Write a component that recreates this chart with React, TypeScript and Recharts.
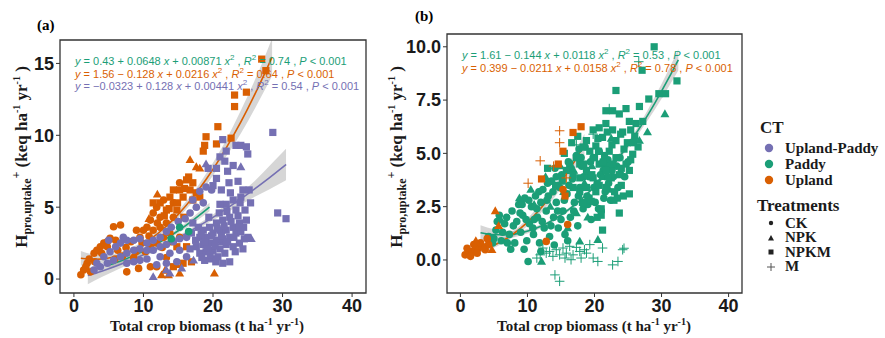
import React from "react";
import { Area, ComposedChart, Line, ReferenceArea, Scatter, XAxis, YAxis } from "recharts";

// colours per cropping type (ggplot Dark2)
const ctNames = ["Upland-Paddy", "Paddy", "Upland"];
const ctColors = ["#7570b3", "#1b9e77", "#d95f02"];
const treatNames = ["CK", "NPK", "NPKM", "M"];
const xTicks = [0, 10, 20, 30, 40];
const aYTicks = [0, 5, 10, 15];
const bYTicks = [0, 2.5, 5, 7.5, 10];

// ---- panel (a) points, [x, y]
const aUpdCK = [[2.9,0.63],[3.8,0.86],[4.8,1.1],[5.7,1.3],[6.7,1.55],[7.6,1.8],[8.6,2.0],[9.5,2.1],[10.5,2.0],[11.4,2.0],[12.4,2.25],[13.3,2.4],[14.3,2.6],[15.2,2.8],[16.2,2.9],[3.3,1.1],[4.3,1.55],[5.2,1.9],[6.0,2.25],[6.7,2.5],[7.6,2.7],[8.6,2.7],[9.5,2.8],[10.5,2.5],[11.4,2.7],[12.4,2.9],[13.3,3.3],[14.0,3.6],[15.0,4.0],[16.0,4.2],[16.7,4.6],[17.6,5.0],[18.6,5.3],[10.5,1.4],[9.5,1.3],[8.6,1.2],[7.6,1.1],[12.4,1.55],[13.8,1.8],[15.2,2.0],[16.2,1.55],[14.8,1.2],[13.3,1.1],[11.9,1.0],[19.0,6.4],[19.8,6.2],[18.1,6.1],[17.1,5.5],[7.1,2.9],[5.0,2.7]];
const aUpdNPK = [[24.0,7.8],[25.5,2.8],[13.3,0.63],[13.8,0.4],[15.5,0.74],[11.4,0.16],[19.0,8.0],[17.2,1.3],[21.3,2.6]];
const aUpdNPKM = [[28.6,10.2],[29.3,4.6],[30.5,4.2],[21.4,9.7],[23.3,9.3],[24.0,9.3],[25.0,8.7],[24.8,9.2],[21.9,8.9],[21.0,8.5],[21.7,8.2],[22.9,7.9],[22.1,7.5],[20.5,7.0],[20.0,6.5],[19.3,7.7],[20.5,7.7],[24.3,6.2],[25.2,6.2],[24.0,5.7],[22.9,5.5],[21.9,5.2],[21.0,5.2],[23.3,4.8],[22.4,4.3],[21.4,4.1],[20.5,3.9],[19.5,3.6],[18.6,3.4],[17.9,3.6],[17.1,3.9],[16.9,3.2],[18.1,2.9],[19.0,2.9],[20.0,3.2],[21.0,3.4],[21.9,3.4],[22.9,3.6],[23.8,3.9],[24.8,4.1],[19.5,2.5],[20.5,2.7],[21.4,2.8],[22.4,2.9],[23.3,3.2],[24.0,3.3],[18.6,2.4],[17.6,2.25],[16.7,2.1],[18.1,1.8],[19.0,1.9],[20.0,2.0],[21.0,2.1],[21.9,2.4],[19.8,1.4],[20.7,1.55],[18.8,1.3],[21.7,1.8],[22.9,2.25],[23.8,2.5],[24.5,2.8],[25.0,2.9],[22.4,1.2],[21.4,1.1],
  [17.5,2.7],[18.3,3.1],[19.2,2.2],[20.3,2.3],[21.2,3.0],[22.1,2.6],[23.0,2.9],[23.7,3.6],[24.4,3.6],[22.6,4.0],[21.6,3.7],[20.6,3.5],[19.8,3.0],[18.9,2.6],[19.4,4.3],[20.9,4.6],[22.0,4.7],[23.6,4.4],[24.6,4.8],[25.4,5.3],[23.9,5.3],[22.5,6.0],[21.2,6.2],[23.6,6.8],[22.3,6.7],[18.4,1.5],[19.6,1.7],[20.4,1.2],[23.2,1.9],[24.3,2.1]];
const aUpCK = [[6.7,3.76],[5.7,3.64],[5.2,2.83],[4.8,2.6],[3.8,2.25],[2.9,1.8],[1.9,1.1],[1.4,0.63],[1.0,0.3],[2.4,0.5],[1.7,0.86],[3.3,2.0],[4.3,2.5],[4.8,2.25],[4.0,1.8],[7.6,0.5],[9.3,0.74],[11.0,0.86],[11.9,0.86],[10.5,3.6],[11.0,4.1],[11.4,4.6],[11.9,5.0],[12.9,5.5],[12.4,4.3],[13.3,3.9],[14.3,4.3],[14.3,5.3],[15.2,6.7],[10.0,3.4],[9.5,2.9],[9.0,3.4],[11.4,3.4],[12.4,3.6],[12.9,2.9],[13.8,3.2],[11.9,2.5],[11.0,2.25],[15.2,2.9],[8.2,2.6],[7.5,2.2],[6.3,2.0],[5.9,1.4],[2.2,1.4],[3.0,1.2],[8.6,1.5],[13.3,1.5],
  [12.0,3.9],[10.8,3.0],[9.8,2.5],[12.7,2.2],[14.0,2.6],[10.3,1.9],[8.9,1.9],[7.0,1.6],[6.0,2.7]];
const aUpNPK = [[16.7,8.3],[17.6,7.8],[18.1,7.7],[20.2,0.4],[12.6,0.28],[13.6,0.28],[15.2,0.4],[14.8,1.0],[13.1,0.6],[12.0,5.9],[10.8,4.2]];
const aUpNPKM = [[27.0,15.3],[27.6,14.5],[24.8,13.0],[23.1,12.8],[23.1,12.0],[20.7,10.6],[20.5,9.4],[22.6,9.8],[18.8,9.3],[18.6,8.9],[19.0,9.9],[16.2,6.9],[17.1,6.7],[15.2,6.2],[13.8,5.7],[16.7,6.2],[17.6,6.0],[17.1,5.5],[18.1,5.7],[14.3,6.2],[12.4,5.3],[11.4,5.3],[15.7,5.7],[14.8,4.8],[13.3,4.8],[16.9,1.2],[15.7,1.1],[14.3,0.86],[16.2,2.25],[14.8,2.25],
  [13.0,4.4],[13.7,4.9],[14.9,5.3],[15.9,6.3],[16.5,7.1],[15.8,4.3]];
const aPdCK = [[15.2,3.6],[16.5,3.3],[14.0,2.8]];

// ---- panel (b) points
const bPdCK = [[4.2,1.1],[4.8,0.8],[5.3,1.4],[5.8,2.1],[6.1,0.9],[6.6,1.7],[6.9,2.0],[7.3,1.2],[7.7,2.3],[8.1,0.8],[8.4,1.8],[8.7,2.6],[9.0,1.3],[9.3,2.1],[9.6,2.9],[9.9,0.9],[10.1,-0.07],[10.3,1.7],[10.6,2.5],[10.9,1.2],[11.2,3.0],[11.5,2.0],[11.8,0.8],[12.0,2.7],[12.3,3.3],[12.5,1.5],[12.8,2.3],[13.1,3.0],[13.3,1.1],[13.6,3.7],[13.9,2.0],[14.1,4.3],[14.3,2.7],[14.6,1.5],[14.8,3.4],[15.1,4.0],[15.3,2.3],[15.6,1.2],[15.9,3.1],[16.1,4.6],[16.4,2.0],[16.7,3.8],[17.0,2.7],[17.3,4.9],[17.5,1.6],[17.8,3.4],[18.1,4.4],[18.3,2.4],[18.6,5.3],[18.9,3.0],[19.2,3.9],[19.5,1.9],[19.8,4.8],[20.1,2.7],[20.4,3.6],[20.7,5.1],[21.0,2.3],[21.3,4.2],[21.6,3.2],[22.0,4.7],[22.4,2.8],[22.8,3.9],[23.3,4.4],[12.0,0.4],[14.0,0.7],[16.0,0.9],[9.5,0.5],[7.5,0.5],
  [5.0,1.0],[5.5,1.8],[6.3,1.3],[7.0,0.8],[7.9,1.6],[8.9,2.2],[9.8,1.9],[10.8,1.5],[11.4,2.4],[11.0,1.9],[12.2,1.8],[12.9,2.8],[13.5,1.6],[13.8,3.2],[14.5,2.3],[15.0,1.9],[15.5,2.8],[16.2,3.5],[16.9,2.3],[17.6,3.0],[18.4,3.9],[19.0,2.6],[19.9,3.4],[20.6,2.4],[21.4,2.9],[22.1,3.6],[22.6,4.2],[23.5,3.4],[14.3,3.9],[13.0,3.6],[11.7,3.2],[10.2,2.8],[9.2,2.6],[17.7,5.2],[16.5,4.3],[18.0,4.8],[19.4,4.6],[20.9,4.0],[21.8,4.4],[23.8,4.8],[24.5,3.9],[25.0,4.6]];
const bPdNPK = [[30.5,6.85],[27.9,6.0],[26.7,5.6],[22.5,5.7],[20.5,0.95],[12.1,-0.07],[17.8,0.87],[6.0,1.9],[8.8,2.9],[11.0,2.6],[13.4,2.5],[15.4,3.2],[16.9,4.2],[18.5,3.6],[19.6,4.4],[21.2,3.9],[14.9,4.4],[17.3,2.2],[19.0,2.0],[20.8,4.5],[22.2,3.3],[24.0,4.1],[10.5,3.3],[12.7,3.9],[16.0,1.5]];
const bPdNPKM = [[28.9,10.0],[27.1,8.9],[32.3,8.4],[30.6,7.8],[29.6,7.8],[28.1,7.55],[23.2,7.95],[26.7,7.2],[24.7,7.1],[22.7,7.0],[21.7,7.0],[23.7,6.85],[25.2,6.5],[27.2,6.5],[26.2,6.4],[21.7,6.4],[20.7,6.2],[22.7,6.1],[24.2,6.0],[25.4,6.1],[19.8,6.1],[21.2,5.75],[23.2,5.6],[24.4,5.2],[25.7,4.96],[25.4,4.7],[24.7,4.5],[24.0,4.3],[25.2,4.2],[23.7,4.0],[22.5,3.85],[21.7,4.2],[20.7,4.5],[20.0,4.8],[19.3,5.1],[18.3,5.3],[18.8,5.6],[20.2,5.35],[22.2,5.1],[23.2,4.8],[22.7,4.5],[24.0,3.5],[25.2,3.1],[23.4,2.9],[22.9,2.8],[21.0,2.4],[21.0,2.1],[21.2,1.4],[23.7,2.2],[19.5,2.75],[17.8,3.85],[18.8,4.2],[16.8,4.0],[17.8,4.5],[17.3,4.8],[16.3,4.5],[15.8,4.2],[19.8,3.85],[20.7,3.5],[21.7,3.4],[20.2,3.2],[18.8,3.4],[17.8,3.2],[16.8,3.4],[15.5,5.0],[16.6,5.5],[17.5,5.8],[14.2,3.5],[13.0,4.3],[15.2,3.7],[19.2,2.9],[21.5,4.9],[18.2,2.7],[20.4,2.0],[26.0,5.8],[26.5,5.3],
  [18.4,4.5],[19.6,4.0],[20.5,5.7],[21.3,4.6],[22.0,3.9],[23.0,3.2],[24.3,3.0],[24.9,5.5],[25.8,5.5],[23.9,5.9],[22.6,5.4],[21.9,6.0],[20.6,5.1]];
const bPdM = [[11.9,0.24],[12.8,0.32],[13.8,0.17],[14.8,0.24],[15.8,0.32],[16.8,0.24],[17.8,0.4],[18.8,0.32],[19.8,0.09],[20.5,-0.07],[21.2,0.56],[22.7,-0.23],[23.5,-0.07],[24.2,0.48],[14.1,-0.7],[14.8,-1.0],[13.3,0.4],[14.3,0.48],[15.3,0.56],[16.3,0.64],[17.3,0.59],[18.5,0.48],[12.3,0.56],[11.4,0.09],[19.3,0.72],[15.6,0.09],[16.5,0.01],[18.0,0.09],[22.2,7.1],[26.6,9.3],[17.3,5.4],[19.8,5.9],[24.4,0.55]];
const bUpCK = [[0.7,0.24],[1.2,0.4],[1.7,0.4],[2.2,0.48],[2.7,0.56],[3.2,0.64],[1.5,0.17],[2.5,0.32],[3.7,0.48],[2.0,0.72],[3.0,0.8],[4.2,0.72],[12.8,0.87],[16.0,1.66],[15.3,3.3],[1.0,0.55],[4.0,1.0]];
const bUpNPK = [[5.2,2.3],[5.7,1.6],[4.7,0.48],[2.3,0.9],[3.5,0.6]];
const bUpNPKM = [[18.0,6.25],[16.8,5.98],[15.3,5.1],[14.6,4.5],[12.1,3.8],[15.6,3.0]];
const bUpM = [[14.8,6.06],[14.8,5.5],[11.9,4.65],[10.1,3.6],[15.8,3.85],[13.9,4.4]];

// ---- fitted curves: [x, y, half band width]
const aFitUp = [[1,1.45,0.5],[3,1.37,0.35],[5,1.46,0.25],[7,1.72,0.22],[9,2.16,0.2],[11,2.77,0.2],[13,3.55,0.2],[15,4.5,0.25],[17,5.63,0.3],[19,6.93,0.4],[21,8.4,0.5],[23,10.04,0.7],[25,11.86,0.9],[27,13.85,1.1],[28.5,15.45,1.3]];
const aFitUpd = [[2,0.24,0.6],[4,0.55,0.4],[6,0.89,0.3],[8,1.27,0.2],[10,1.69,0.17],[12,2.14,0.15],[14,2.62,0.15],[16,3.14,0.15],[18,3.7,0.17],[20,4.29,0.2],[22,4.92,0.3],[24,5.58,0.4],[26,6.28,0.55],[28,7.01,0.8],[30.5,7.97,1.1]];
const aFitPd = [[5,0.97,0.3],[7,1.31,0.22],[9,1.72,0.18],[11,2.2,0.15],[13,2.74,0.15],[15,3.36,0.18],[17,4.05,0.22],[19.5,5.01,0.3]];
const bFitPd = [[3,1.28,0.35],[5,1.19,0.25],[7,1.18,0.18],[9,1.27,0.12],[11,1.45,0.1],[13,1.73,0.08],[15,2.11,0.08],[17,2.57,0.08],[19,3.13,0.08],[21,3.79,0.1],[23,4.54,0.12],[25,5.39,0.15],[27,6.32,0.2],[29,7.36,0.3],[31,8.49,0.4],[32.5,9.39,0.5]];
const bFitUp = [[1,0.39,0.15],[3,0.48,0.12],[5,0.69,0.12],[7,1.03,0.12],[9,1.49,0.15],[11,2.08,0.2],[13,2.8,0.25],[15,3.64,0.3],[17,4.61,0.4],[18.5,5.42,0.5]];

// equation labels
const aEqs = [
  { color: ctColors[1], lead: "0.43 + 0.0648", quad: "0.00871", r2: "0.74" },
  { color: ctColors[2], lead: "1.56 \u2212 0.128", quad: "0.0216", r2: "0.64" },
  { color: ctColors[0], lead: "\u22120.0323 + 0.128", quad: "0.00441", r2: "0.54" },
];
const bEqs = [
  { color: ctColors[1], lead: "1.61 \u2212 0.144", quad: "0.0118", r2: "0.53" },
  { color: ctColors[2], lead: "0.399 \u2212 0.0211", quad: "0.0158", r2: "0.78" },
];

const pts = (arr: number[][]) => arr.map(([x, y]) => ({ x, y }));
const line = (arr: number[][]) => arr.map(([x, y]) => ({ x, y }));
const band = (arr: number[][]) => arr.map(([x, y, h]) => ({ x, band: [y - h, y + h] }));

const marker = (kind: string) => (props: any) => {
  const { cx, cy, fill } = props;
  if (cx == null || cy == null) return <g />;
  if (kind === "circle") return <circle cx={cx} cy={cy} r={3.8} fill={fill} />;
  if (kind === "triangle")
    return <polygon points={`${cx},${cy - 4.6} ${cx + 4.5},${cy + 3.2} ${cx - 4.5},${cy + 3.2}`} fill={fill} />;
  if (kind === "square") return <rect x={cx - 3.6} y={cy - 3.6} width={7.2} height={7.2} fill={fill} />;
  return (
    <path d={`M${cx - 4.8},${cy}H${cx + 4.8}M${cx},${cy - 4.8}V${cy + 4.8}`} stroke={fill} strokeWidth={1} fill="none" />
  );
};

const tickStyle = { fontSize: 18, fontWeight: 700, fill: "#1a1a1a", fontFamily: "'Liberation Sans', Arial, sans-serif" };
const serif = "'Liberation Serif', 'Times New Roman', serif";

interface Series { data: number[][]; color: string; kind: string }
interface Fit { data: number[][]; color: string }

function Panel({ left, width, margin, yDomain, yTicks, yFmt, series, fits }: {
  left: number; width: number; margin: any; yDomain: [number, number]; yTicks: number[];
  yFmt?: (v: number) => string; series: Series[]; fits: Fit[];
}) {
  return (
    <div style={{ position: "absolute", left, top: 0 }}>
      <ComposedChart width={width} height={338} margin={margin}>
        <XAxis type="number" dataKey="x" domain={[-2, 42]} ticks={xTicks} allowDataOverflow
          tick={tickStyle} tickSize={4} tickMargin={2} axisLine={false} tickLine={{ stroke: "#333" }} height={30} />
        <YAxis type="number" dataKey="y" domain={yDomain} ticks={yTicks} allowDataOverflow
          tickFormatter={yFmt} tick={tickStyle} tickSize={4} tickMargin={2} axisLine={false}
          tickLine={{ stroke: "#333" }} width={40} />
        {series.map((s, i) => (
          <Scatter key={`s${i}`} data={pts(s.data)} fill={s.color} shape={marker(s.kind)} isAnimationActive={false} />
        ))}
        {fits.map((f, i) => (
          <Area key={`b${i}`} data={band(f.data)} dataKey="band" type="monotone" stroke="none"
            fill="#999" fillOpacity={0.4} isAnimationActive={false} />
        ))}
        {fits.map((f, i) => (
          <Line key={`l${i}`} data={line(f.data)} dataKey="y" type="monotone" stroke={f.color}
            strokeWidth={1.6} dot={false} isAnimationActive={false} />
        ))}
        <ReferenceArea x1={-2} x2={42} y1={yDomain[0]} y2={yDomain[1]} fill="none" stroke="#333" strokeWidth={1.3} />
      </ComposedChart>
    </div>
  );
}

const sup = (t: string, size = 10) => <span style={{ fontSize: size, verticalAlign: "super", lineHeight: 0 }}>{t}</span>;

function Equations({ eqs, left, top }: { eqs: typeof aEqs; left: number; top: number }) {
  return (
    <div style={{ position: "absolute", left, top, fontFamily: "'Liberation Sans', Arial, sans-serif", fontSize: 11, lineHeight: "12.5px", whiteSpace: "nowrap" }}>
      {eqs.map((e, i) => (
        <div key={i} style={{ color: e.color }}>
          <i>y</i> = {e.lead} <i>x</i> + {e.quad} <i>x</i>{sup("2", 8)} , <i>R</i>{sup("2", 8)} = {e.r2} , <i>P</i> &lt; 0.001
        </div>
      ))}
    </div>
  );
}

function YTitle({ cx, cy }: { cx: number; cy: number }) {
  return (
    <div style={{ position: "absolute", left: cx, top: cy, transform: "translate(-50%, -50%) rotate(-90deg)", whiteSpace: "nowrap", fontFamily: serif, fontWeight: 700, fontSize: 17, color: "#1a1a1a" }}>
      H<span style={{ fontSize: 12, verticalAlign: "sub", lineHeight: 0 }}>pro,uptake</span>
      <span style={{ fontSize: 12, verticalAlign: "super", lineHeight: 0 }}>+</span> (keq ha{sup("-1")} yr{sup("-1")} )
    </div>
  );
}

function XTitle({ cx, cy }: { cx: number; cy: number }) {
  return (
    <div style={{ position: "absolute", left: cx, top: cy, transform: "translate(-50%, -50%)", whiteSpace: "nowrap", fontFamily: serif, fontWeight: 700, fontSize: 15, color: "#1a1a1a" }}>
      Total crop biomass (t ha{sup("-1")} yr{sup("-1")})
    </div>
  );
}

function Legend() {
  return (
    <div style={{ position: "absolute", left: 757, top: 118, fontFamily: serif, fontWeight: 700, color: "#1a1a1a" }}>
      <div style={{ fontSize: 17, marginLeft: 3, height: 22 }}>CT</div>
      {ctNames.map((n, i) => (
        <div key={n} style={{ display: "flex", alignItems: "center", height: 16, fontSize: 15 }}>
          <svg width={28} height={16}><circle cx={12} cy={8} r={4.2} fill={ctColors[i]} /></svg>{n}
        </div>
      ))}
      <div style={{ fontSize: 17, marginTop: 8, height: 20 }}>Treatments</div>
      {treatNames.map((n, i) => (
        <div key={n} style={{ display: "flex", alignItems: "center", height: 14.5, fontSize: 15 }}>
          <svg width={28} height={14}>
            {i === 0 && <circle cx={14} cy={7} r={2.2} fill="#222" />}
            {i === 1 && <polygon points="14,4 17,9.5 11,9.5" fill="#222" />}
            {i === 2 && <rect x={11.5} y={4.5} width={5} height={5} fill="#222" />}
            {i === 3 && <path d="M10,7H18M14,3V11" stroke="#555" strokeWidth={1} />}
          </svg>
          {n}
        </div>
      ))}
    </div>
  );
}

export default function App() {
  const [up, pd, upd] = [ctColors[2], ctColors[1], ctColors[0]];
  return (
    <div style={{ position: "relative", width: 885, height: 338, background: "#fff", overflow: "hidden" }}>
      <style>{"body{margin:0}"}</style>
      <Panel left={0} width={400} margin={{ top: 40, right: 34, bottom: 15, left: 20 }}
        yDomain={[-0.97, 16.63]} yTicks={aYTicks}
        series={[
          { data: aUpCK, color: up, kind: "circle" },
          { data: aUpNPK, color: up, kind: "triangle" },
          { data: aUpNPKM, color: up, kind: "square" },
          { data: aUpdCK, color: upd, kind: "circle" },
          { data: aUpdNPK, color: upd, kind: "triangle" },
          { data: aUpdNPKM, color: upd, kind: "square" },
          { data: aPdCK, color: pd, kind: "circle" },
        ]}
        fits={[{ data: aFitUp, color: up }, { data: aFitUpd, color: upd }, { data: aFitPd, color: pd }]} />
      <Panel left={400} width={360} margin={{ top: 34, right: 18, bottom: 15, left: 7 }}
        yDomain={[-1.55, 10.6]} yTicks={bYTicks} yFmt={(v) => v.toFixed(1)}
        series={[
          { data: bPdCK, color: pd, kind: "circle" },
          { data: bPdNPK, color: pd, kind: "triangle" },
          { data: bPdNPKM, color: pd, kind: "square" },
          { data: bPdM, color: pd, kind: "cross" },
          { data: bUpCK, color: up, kind: "circle" },
          { data: bUpNPK, color: up, kind: "triangle" },
          { data: bUpNPKM, color: up, kind: "square" },
          { data: bUpM, color: up, kind: "cross" },
        ]}
        fits={[{ data: bFitPd, color: pd }, { data: bFitUp, color: up }]} />
      <Equations eqs={aEqs} left={75} top={55} />
      <Equations eqs={bEqs} left={462} top={49} />
      <YTitle cx={22} cy={157} />
      <YTitle cx={397} cy={157} />
      <XTitle cx={207} cy={326} />
      <XTitle cx={594} cy={326} />
      <div style={{ position: "absolute", left: 37, top: 17, fontFamily: serif, fontWeight: 700, fontSize: 15 }}>(a)</div>
      <div style={{ position: "absolute", left: 415, top: 8, fontFamily: serif, fontWeight: 700, fontSize: 15 }}>(b)</div>
      <Legend />
    </div>
  );
}
